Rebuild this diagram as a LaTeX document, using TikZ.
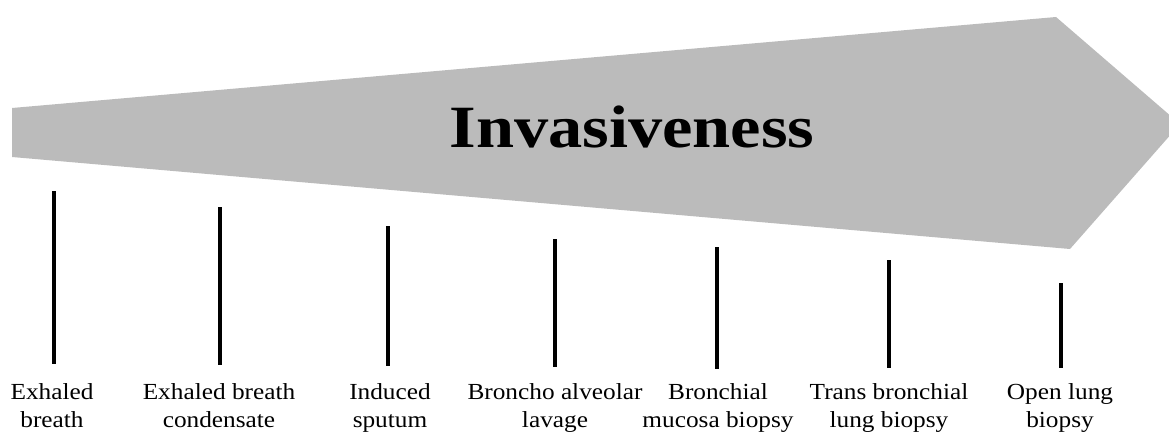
\documentclass[tikz,border=0pt]{standalone}
\usepackage{fontspec}
\setmainfont{Liberation Serif}
\tikzset{
  band/.style={fill=bandgrey, draw=none},
  tickline/.style={line width=3.3pt, black},
  lbl/.style={anchor=base, inner sep=0pt, font=\fontsize{23}{28}\selectfont},
  ttl/.style={anchor=base, inner sep=0pt, font=\fontsize{60}{70}\selectfont\bfseries}
}
\definecolor{bandgrey}{RGB}{187,187,187}
\newcommand{\twolines}[2]{\scalebox{1.1}[1]{\begin{tabular}[t]{@{}c@{}}#1\\#2\end{tabular}}}
\begin{document}
\begin{tikzpicture}[x=1pt,y=-1pt]
\useasboundingbox (0,0) rectangle (1169,433);
\begin{scope}
\clip (0,0) rectangle (1169,433);
\fill[band] (12,108) -- (1056,17) -- (1180,124) -- (1070,249) -- (12,157) -- cycle;
\end{scope}
\node[ttl] (title) at (632,147) {\scalebox{1.14}[1]{Invasiveness}};
% ticks
\coordinate (t1) at (54,191);   \coordinate (b1) at (54,364);
\coordinate (t2) at (220,207);  \coordinate (b2) at (220,365);
\coordinate (t3) at (388,226);  \coordinate (b3) at (388,366);
\coordinate (t4) at (555,239);  \coordinate (b4) at (555,367);
\coordinate (t5) at (717,247);  \coordinate (b5) at (717,369);
\coordinate (t6) at (889,260);  \coordinate (b6) at (889,368);
\coordinate (t7) at (1061,283); \coordinate (b7) at (1061,368);
\foreach \i in {1,...,7} { \draw[tickline] (t\i) -- (b\i); }
% labels
\node[lbl] (l1) at (52,399) {\twolines{Exhaled}{breath}};
\node[lbl] (l2) at (219,399) {\twolines{Exhaled breath}{condensate}};
\node[lbl] (l3) at (390,399) {\twolines{Induced}{sputum}};
\node[lbl] (l4) at (555,399) {\twolines{Broncho alveolar}{lavage}};
\node[lbl] (l5) at (718,399) {\twolines{Bronchial}{mucosa biopsy}};
\node[lbl] (l6) at (889,399) {\twolines{Trans bronchial}{lung biopsy}};
\node[lbl] (l7) at (1060,399) {\twolines{Open lung}{biopsy}};
\end{tikzpicture}
\end{document}
